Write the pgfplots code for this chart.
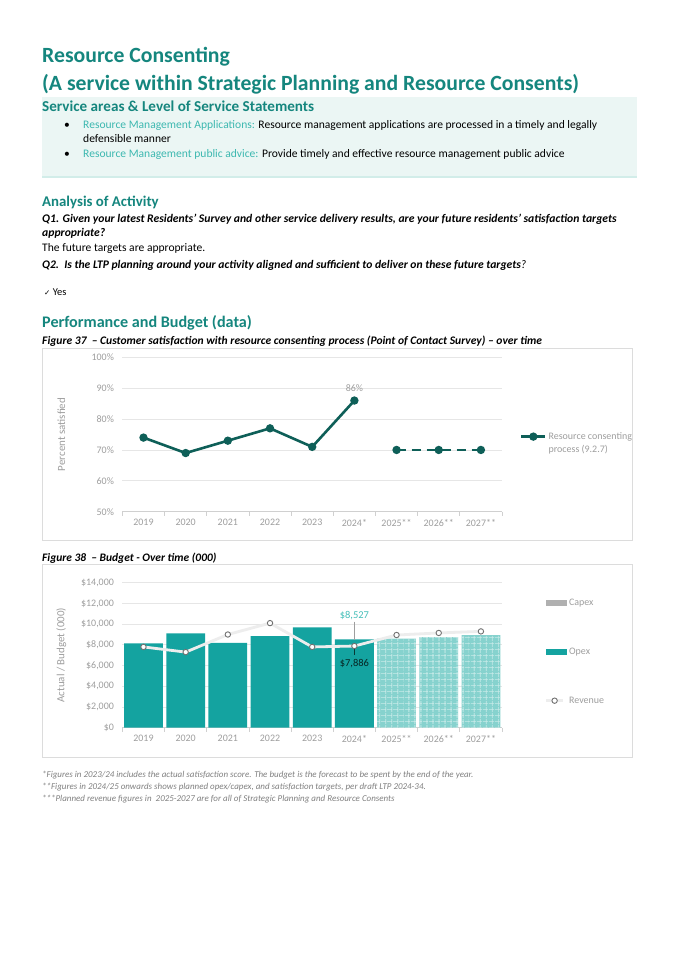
\documentclass[border=0pt]{standalone}
\usepackage{pgfplots}
\pgfplotsset{compat=1.18}
\usepackage{fontspec}
\setmainfont{Carlito}
\newfontfamily\symfont{DejaVu Sans}
\usetikzlibrary{patterns.meta}

\definecolor{tealhead}{HTML}{15867E}
\definecolor{tealsoft}{HTML}{3DB8B0}
\definecolor{boxfill}{HTML}{EBF6F4}
\definecolor{boxline}{HTML}{D2EDE9}
\definecolor{framegray}{HTML}{DCDCDC}
\definecolor{gridgray}{HTML}{E6E6E6}
\definecolor{axisgray}{HTML}{D0D0D0}
\definecolor{tickgray}{HTML}{9E9E9E}
\definecolor{notegray}{HTML}{808080}
\definecolor{satline}{HTML}{0E5F58}
\definecolor{opex}{HTML}{14A3A0}
\definecolor{opexplan}{HTML}{86D2CE}
\definecolor{capex}{HTML}{B0B0B0}
\definecolor{revline}{HTML}{EDEDED}
\definecolor{revmark}{HTML}{707070}
\definecolor{labteal}{HTML}{45BFB9}

\pgfplotsset{
  barleg/.style={legend image code/.code={\fill[##1] (0bp,-3bp) rectangle (21bp,3bp);}},
  chartbase/.style={
    scale only axis, width=379.6bp,
    xmin=-0.5, xmax=8.5,
    xtick={0,...,8},
    xticklabels={2019,2020,2021,2022,2023,2024*,2025**,2026**,2027**},
    minor xtick={-0.5,0.5,...,8.5},
    ymajorgrids, major grid style={draw=gridgray, line width=0.9bp},
    axis x line*=bottom, axis y line*=left,
    x axis line style={draw=axisgray, line width=0.8bp, -},
    y axis line style={draw=none},
    major tick length=0pt, minor tick length=4bp, tick align=outside,
    minor x tick style={draw=axisgray, line width=0.8bp},
    tick label style={font=\fontsize{10}{12}\selectfont, color=tickgray},
    xticklabel style={yshift=-4bp},
    yticklabel style={xshift=-5bp},
    /pgf/number format/assume math mode=true,
    every axis y label/.style={at={(axis description cs:-0.1607,0.5)}, rotate=90, anchor=center,
      font=\fontsize{11}{13}\selectfont, color=tickgray},
    clip=false,
  },
}

\begin{document}
\begin{tikzpicture}
\begin{scope}[x=1bp,y=-1bp]
\useasboundingbox[fill=white] (0,0) rectangle (675,955);

% headings
\node[anchor=base west, inner sep=0pt, text=tealhead, font=\fontsize{21.8}{24}\selectfont\bfseries] at (42,62) {Resource Consenting};
\node[anchor=base west, inner sep=0pt, text=tealhead, font=\fontsize{21.8}{24}\selectfont\bfseries] at (42,90) {(A service within Strategic Planning and Resource Consents)};

% service box
\fill[boxfill] (42,97) rectangle (637,177);
\draw[boxline, line width=1.5bp] (42,177) -- (637,177);
\node[anchor=base west, inner sep=0pt, text=tealhead, font=\fontsize{15.2}{18}\selectfont\bfseries] at (42,111) {Service areas \& Level of Service Statements};
\node[anchor=base west, inner sep=0pt, font=\fontsize{11.6}{13}\selectfont] at (64,128) {•};
\node[anchor=base west, inner sep=0pt, font=\fontsize{11.6}{13}\selectfont] at (83,128) {\textcolor{tealsoft}{Resource Management Applications:} Resource management applications are processed in a timely and legally};
\node[anchor=base west, inner sep=0pt, font=\fontsize{11.6}{13}\selectfont] at (83,142) {defensible manner};
\node[anchor=base west, inner sep=0pt, font=\fontsize{11.6}{13}\selectfont] at (64,157) {•};
\node[anchor=base west, inner sep=0pt, font=\fontsize{11.6}{13}\selectfont] at (83,157) {\textcolor{tealsoft}{Resource Management public advice:} Provide timely and effective resource management public advice};

% analysis
\node[anchor=base west, inner sep=0pt, text=tealhead, font=\fontsize{14.9}{18}\selectfont\bfseries] at (42,206) {Analysis of Activity};
\node[anchor=base west, inner sep=0pt, font=\fontsize{11.7}{13}\selectfont\bfseries\itshape] at (42,222) {Q1. Given your latest Residents’ Survey and other service delivery results, are your future residents’ satisfaction targets};
\node[anchor=base west, inner sep=0pt, font=\fontsize{11.7}{13}\selectfont\bfseries\itshape] at (42,236) {appropriate?};
\node[anchor=base west, inner sep=0pt, font=\fontsize{11.6}{13}\selectfont] at (42,251) {The future targets are appropriate.};
\node[anchor=base west, inner sep=0pt, font=\fontsize{11.65}{13}\selectfont\itshape] at (42,268) {\textbf{Q2.\ \ Is the LTP planning around your activity aligned and sufficient to deliver on these future targets}?};
\node[anchor=base west, inner sep=0pt, font=\fontsize{10.5}{12}\selectfont] at (44,295) {{\symfont\fontsize{7.5}{8}\selectfont ✓} Yes};

\node[anchor=base west, inner sep=0pt, text=tealhead, font=\fontsize{16.2}{19}\selectfont\bfseries] at (42,327) {Performance and Budget (data)};
\node[anchor=base west, inner sep=0pt, font=\fontsize{11.6}{13}\selectfont\bfseries\itshape] at (42,344) {Figure 37\ \ – Customer satisfaction with resource consenting process (Point of Contact Survey) – over time};
\draw[framegray, line width=0.8bp] (42,348) rectangle (632,540);

\node[anchor=base west, inner sep=0pt, font=\fontsize{11.5}{13}\selectfont\bfseries\itshape] at (42,561) {Figure 38\ \ – Budget - Over time (000)};
\draw[framegray, line width=0.8bp] (42,564) rectangle (632,757);

% footnotes
\node[anchor=base west, inner sep=0pt, text=notegray, font=\fontsize{9}{10}\selectfont\itshape] at (42,777) {*Figures in 2023/24 includes the actual satisfaction score. The budget is the forecast to be spent by the end of the year.};
\node[anchor=base west, inner sep=0pt, text=notegray, font=\fontsize{9}{10}\selectfont\itshape] at (42,789) {**Figures in 2024/25 onwards shows planned opex/capex, and satisfaction targets, per draft LTP 2024-34.};
\node[anchor=base west, inner sep=0pt, text=notegray, font=\fontsize{9}{10}\selectfont\itshape] at (42,801) {***Planned revenue figures in\ \ 2025-2027 are for all of Strategic Planning and Resource Consents};
\end{scope}

% Figure 37
\begin{axis}[chartbase,
  at={(122.4bp,-511.7bp)}, anchor=south west, height=154.4bp,
  ymin=50, ymax=100, ytick={50,60,...,100},
  yticklabel={\pgfmathprintnumber{\tick}\%},
  ylabel={Percent satisfied},
  legend style={at={(axis description cs:1.047,0.445)}, anchor=west, draw=none, fill=none,
    inner sep=0pt, font=\fontsize{10}{12}\selectfont, text=tickgray, row sep=0pt},
  legend cell align=left,
  legend image code/.code={\draw[#1, mark repeat=2, mark phase=2] plot coordinates {(0bp,0bp) (12bp,0bp) (24bp,0bp)};},
]
\addplot[satline, line width=2.6bp, mark=*, mark size=2.8bp, mark options={solid}]
  coordinates {(0,74) (1,69) (2,73) (3,77) (4,71) (5,86)};
\addlegendentry{Resource consenting}
\addplot[satline, line width=2.6bp, dash pattern=on 9bp off 6bp, mark=*, mark size=2.8bp, mark options={solid}, forget plot]
  coordinates {(6,70) (7,70) (8,70)};
\addlegendimage{empty legend}
\addlegendentry{process (9.2.7)}
\node[anchor=south, color=tickgray, font=\fontsize{10}{12}\selectfont, yshift=5bp] at (axis cs:5,86) {86\%};
\end{axis}

% Figure 38
\begin{axis}[chartbase,
  at={(122.4bp,-727.7bp)}, anchor=south west, height=145bp,
  ymin=0, ymax=14000, ytick={0,2000,...,14000},
  scaled y ticks=false,
  yticklabel={\$\pgfmathprintnumber[fixed,1000 sep={,}]{\tick}},
  ylabel={Actual / Budget (000)},
  legend style={at={(axis description cs:1.112,0.524)}, anchor=west, draw=none, fill=none,
    inner sep=0pt, font=\fontsize{10}{12}\selectfont, text=tickgray, row sep=37bp},
  legend cell align=left,
]
\addlegendimage{barleg, fill=capex, draw=none}
\addlegendentry{Capex}
\addplot[ybar, bar width=0.92, bar shift=0pt, fill=opex, draw=none, barleg]
  coordinates {(0,8150) (1,9100) (2,8200) (3,8850) (4,9700) (5,8527)};
\addlegendentry{Opex}
\addplot[ybar, bar width=0.92, bar shift=0pt, fill=opexplan, draw=none, forget plot,
  postaction={pattern={Lines[angle=0,distance=6bp,line width=0.5bp]}, pattern color=white!55!opexplan},
  postaction={pattern={Lines[angle=90,distance=6bp,line width=0.5bp]}, pattern color=white!55!opexplan}]
  coordinates {(6,8600) (7,8750) (8,8950)};
\addplot[revline, line width=2.8bp, mark=*, mark size=2.7bp, mark options={fill=white, draw=revmark, line width=0.9bp}]
  coordinates {(0,7800) (1,7300) (2,9000) (3,10100) (4,7800) (5,7886) (6,8950) (7,9150) (8,9300)};
\addlegendentry{Revenue}
\draw[tickgray, line width=0.6bp] (axis cs:5,10250) -- (axis cs:5,8500);
\draw[satline!60!black, line width=0.6bp] (axis cs:5,7750) -- (axis cs:5,7000);
\node[color=labteal, font=\fontsize{10.5}{12}\selectfont] at (axis cs:5,10850) {\$8,527};
\node[color=satline!40!black, font=\fontsize{10.5}{12}\selectfont] at (axis cs:5,6150) {\$7,886};
\end{axis}
\end{tikzpicture}
\end{document}
